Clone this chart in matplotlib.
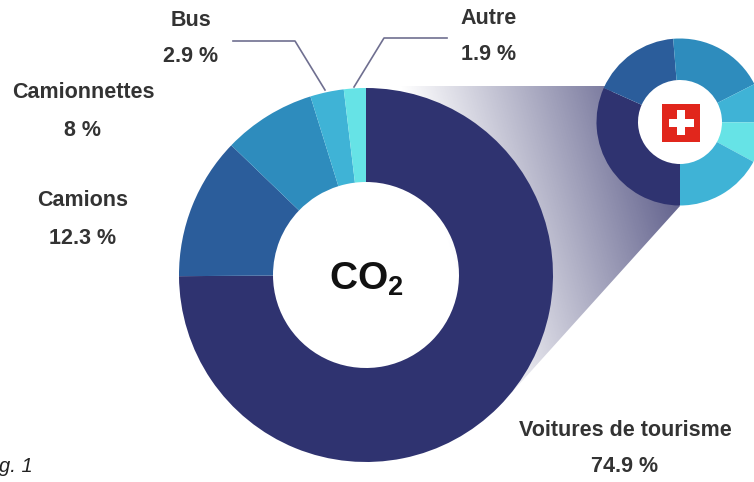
import numpy as np
import matplotlib
matplotlib.use("Agg")
import matplotlib.pyplot as plt
from matplotlib.colors import LinearSegmentedColormap
from matplotlib.patches import Polygon, Rectangle

plt.rcParams['font.family'] = ['Liberation Sans', 'DejaVu Sans']
plt.rcParams['mathtext.fontset'] = 'custom'
plt.rcParams['mathtext.bf'] = 'Liberation Sans:bold'

categories = ["Voitures de tourisme", "Camions", "Camionnettes", "Bus", "Autre"]
co2_shares = [74.9, 12.3, 8, 2.9, 1.9]
share_labels = ["74.9 %", "12.3 %", "8 %", "2.9 %", "1.9 %"]
swiss_shares = [31.7, 17.0, 18.8, 7.6, 7.8, 17.1]

colors = ["#2f3370", "#2b5d9b", "#2e8cbd", "#3fb3d6", "#66e3e6"]
swiss_colors = ["#2f3370", "#2b5d9b", "#2e8cbd", "#3fb3d6", "#66e3e6", "#3fb3d6"]
label_pos = [(625, 430, 467), (83, 200, 238), (83, 92, 130), (191, 20, 57), (489, 18, 55)]

W, H = 754, 482
fig = plt.figure(figsize=(W / 100, H / 100), dpi=100)
ax = fig.add_axes([0, 0, 1, 1])

# gradient funnel between the two rings
xx, yy = np.meshgrid(np.arange(340, 700), np.arange(80, 410))
s = (xx - 0.3 * (yy - 86) - 400) / 240
cmap = LinearSegmentedColormap.from_list("fade", ["#ffffff", "#666690"])
im = ax.imshow(np.clip(s, 0, 1), cmap=cmap, vmin=0, vmax=1, origin="upper",
               extent=(340, 700, H - 410, H - 80), aspect="auto", zorder=1)
funnel = Polygon([(366, H - 86), (610, H - 86), (625, H - 122), (650, H - 170), (680, H - 206),
                  (505, H - 400), (366, H - 400)],
                 transform=ax.transData, fc="none", ec="none")
ax.add_patch(funnel)
im.set_clip_path(funnel)

ax.pie(co2_shares, colors=colors, startangle=90, counterclock=False,
       center=(366, H - 275), radius=187,
       wedgeprops=dict(width=94, linewidth=0, zorder=2))
ax.pie(swiss_shares, colors=swiss_colors, startangle=-90, counterclock=False,
       center=(680, H - 122), radius=83.5,
       wedgeprops=dict(width=41.5, linewidth=0, zorder=2))

# swiss flag
ax.add_patch(Rectangle((662, H - 141.5), 38, 38, fc="#e1261c", ec="none", zorder=3))
ax.add_patch(Rectangle((668.5, H - 126.5), 25, 8, fc="white", ec="none", zorder=4))
ax.add_patch(Rectangle((677, H - 135), 8, 25, fc="white", ec="none", zorder=4))

# leader lines
ax.plot([233, 295, 325], [H - 41, H - 41, H - 90], color="#6f6f90", lw=1.2, zorder=5)
ax.plot([447, 384, 354], [H - 38, H - 38, H - 87], color="#6f6f90", lw=1.2, zorder=5)

for name, lab, (x, y1, y2) in zip(categories, share_labels, label_pos):
    ax.text(x, H - y1, name, ha="center", va="center", fontsize=15.5, fontweight="bold", color="#333333")
    ax.text(x, H - y2, lab, ha="center", va="center", fontsize=15.5, fontweight="bold", color="#333333")

ax.text(366, H - 279, r"$\mathbf{CO_2}$", ha="center", va="center", fontsize=28, color="#111111", zorder=6)
ax.text(33, H - 467, "g. 1", ha="right", va="center", fontsize=14.5, style="italic", color="#222222")

ax.set_xlim(0, W)
ax.set_ylim(0, H)
ax.set_aspect("auto")
ax.axis("off")
fig.savefig("out.png", dpi=100)
